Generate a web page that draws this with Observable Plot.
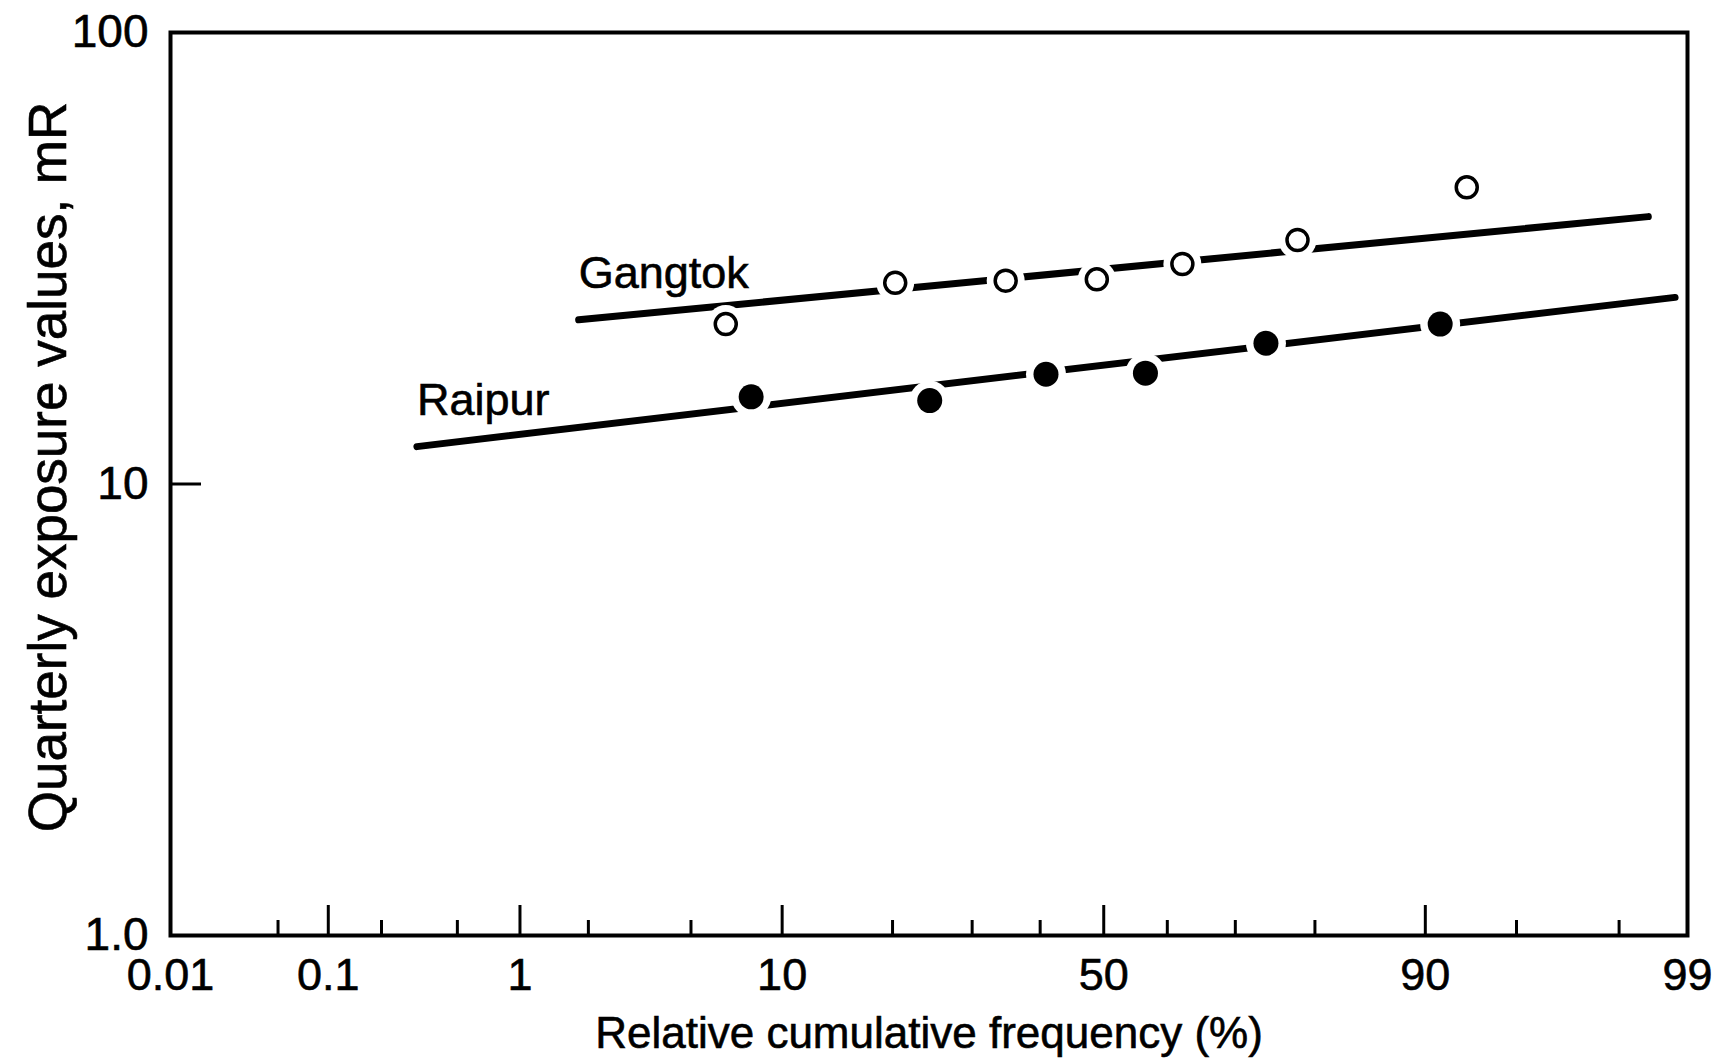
<!DOCTYPE html>
<html>
<head>
<meta charset="utf-8">
<script src="https://cdn.jsdelivr.net/npm/d3@7"></script>
<script src="https://cdn.jsdelivr.net/npm/@observablehq/plot@0.6"></script>
<style>
  html, body { margin: 0; padding: 0; background: #ffffff; }
  #chart svg { display: block; }
  #chart svg text { stroke: #000; stroke-width: 0.6px; }
</style>
</head>
<body>
<div id="chart"></div>
<script>
// ---- data ----
const gangtokFreq = [6.6, 20.3, 34.8, 48.9, 62.3, 78.0, 92.6];       // relative cumulative frequency (%)
const gangtokExposure = [22.6, 27.9, 28.2, 28.4, 30.7, 34.7, 45.4];  // quarterly exposure, mR
const raipurFreq = [8.0, 24.4, 40.9, 56.6, 74.1, 91.0];
const raipurExposure = [15.6, 15.3, 17.5, 17.6, 20.5, 22.6];
const gangtokFitFreq = [1.82, 98.5];
const gangtokFitExposure = [23.1, 39.1];
const raipurFitFreq = [0.31, 98.86];
const raipurFitExposure = [12.1, 25.9];
const seriesNames = ["Gangtok", "Raipur"];
const majorTicks = [0.01, 0.1, 1, 10, 50, 90, 99];
const majorTickLabels = ["0.01", "0.1", "1", "10", "50", "90", "99"];
const minorTicks = [0.05, 0.2, 0.5, 2, 5, 20, 30, 40, 60, 70, 80, 95, 98];
const yTicks = [1, 10, 100];
const yTickLabels = ["1.0", "10", "100"];
const xTitle = "Relative cumulative frequency (%)";
const yTitle = "Quarterly exposure values, mR";

// inverse normal CDF (Acklam) for the probability-paper x axis
function probit(p) {
  const a = [-3.969683028665376e+01, 2.209460984245205e+02, -2.759285104469687e+02, 1.383577518672690e+02, -3.066479806614716e+01, 2.506628277459239e+00];
  const b = [-5.447609879822406e+01, 1.615858368580409e+02, -1.556989798598866e+02, 6.680131188771972e+01, -1.328068155288572e+01];
  const c = [-7.784894002430293e-03, -3.223964580411365e-01, -2.400758277161838e+00, -2.549732539343734e+00, 4.374664141464968e+00, 2.938163982698783e+00];
  const d = [7.784695709041462e-03, 3.224671290700398e-01, 2.445134137142996e+00, 3.754408661907416e+00];
  const pl = 0.02425, ph = 1 - pl;
  let q, r;
  if (p < pl) {
    q = Math.sqrt(-2 * Math.log(p));
    return (((((c[0]*q+c[1])*q+c[2])*q+c[3])*q+c[4])*q+c[5]) / ((((d[0]*q+d[1])*q+d[2])*q+d[3])*q+1);
  }
  if (p > ph) {
    q = Math.sqrt(-2 * Math.log(1 - p));
    return -(((((c[0]*q+c[1])*q+c[2])*q+c[3])*q+c[4])*q+c[5]) / ((((d[0]*q+d[1])*q+d[2])*q+d[3])*q+1);
  }
  q = p - 0.5; r = q * q;
  return (((((a[0]*r+a[1])*r+a[2])*r+a[3])*r+a[4])*r+a[5])*q / (((((b[0]*r+b[1])*r+b[2])*r+b[3])*r+b[4])*r+1);
}
const pz = pct => probit(pct / 100);

const gangtok = gangtokFreq.map((f, i) => ({f, v: gangtokExposure[i]}));
const raipur = raipurFreq.map((f, i) => ({f, v: raipurExposure[i]}));
const gangtokFit = gangtokFitFreq.map((f, i) => ({f, v: gangtokFitExposure[i]}));
const raipurFit = raipurFitFreq.map((f, i) => ({f, v: raipurFitExposure[i]}));
const labelAnchors = [
  {name: seriesNames[0], f: gangtokFitFreq[0], v: gangtokFitExposure[0]},
  {name: seriesNames[1], f: raipurFitFreq[0], v: raipurFitExposure[0]}
];

const majorZ = majorTicks.map(pz);
const minorZ = minorTicks.map(pz);
const xLabelMap = new Map(majorZ.map((z, i) => [z, majorTickLabels[i]]));
const yLabelMap = new Map(yTicks.map((t, i) => [t, yTickLabels[i]]));

const FONT = "'Liberation Sans', Arial, Helvetica, sans-serif";

const chart = Plot.plot({
  width: 1722,
  height: 1060,
  marginLeft: 170,
  marginRight: 35,
  marginTop: 32,
  marginBottom: 125,
  style: {fontFamily: FONT, background: "#ffffff", color: "#000000", overflow: "visible"},
  x: {type: "linear", domain: [pz(0.01), pz(99)]},
  y: {type: "log", domain: [1, 100]},
  marks: [
    Plot.frame({stroke: "#000", strokeWidth: 4}),
    Plot.axisX(minorZ, {tickSize: -15, tickFormat: () => "", strokeWidth: 3, label: null}),
    Plot.axisX(majorZ, {tickSize: -30, tickFormat: () => "", strokeWidth: 3, label: null}),
    Plot.axisX(majorZ, {tickSize: 0, tickPadding: 23, tickFormat: z => xLabelMap.get(z), fontSize: 45, label: null}),
    Plot.axisY(yTicks, {tickSize: -31, tickFormat: () => "", strokeWidth: 3, label: null}),
    Plot.axisY(yTicks, {tickSize: 0, tickPadding: 22, tickFormat: t => yLabelMap.get(t), fontSize: 46, label: null}),
    Plot.line(gangtokFit, {x: d => pz(d.f), y: "v", stroke: "#000", strokeWidth: 7, strokeLinecap: "round"}),
    Plot.line(raipurFit, {x: d => pz(d.f), y: "v", stroke: "#000", strokeWidth: 7, strokeLinecap: "round"}),
    Plot.dot(gangtok, {x: d => pz(d.f), y: "v", r: 19, fill: "#fff", stroke: null}),
    Plot.dot(raipur, {x: d => pz(d.f), y: "v", r: 20, fill: "#fff", stroke: null}),
    Plot.dot(gangtok, {x: d => pz(d.f), y: "v", r: 10.5, fill: "#fff", stroke: "#000", strokeWidth: 3.5}),
    Plot.dot(raipur, {x: d => pz(d.f), y: "v", r: 12.5, fill: "#000", stroke: null}),
    Plot.text(labelAnchors, {x: d => pz(d.f), y: "v", text: "name", textAnchor: "start", lineAnchor: "bottom", dy: -32, dx: 0, fontSize: 45, fill: "#000"}),
    Plot.text([xTitle], {frameAnchor: "bottom", lineAnchor: "top", dy: 81, fontSize: 44, fill: "#000"}),
    Plot.text([yTitle], {frameAnchor: "left", textAnchor: "middle", rotate: -90, dx: -121, dy: -17, fontSize: 53, fill: "#000"})
  ]
});
document.getElementById("chart").append(chart);
</script>
</body>
</html>
